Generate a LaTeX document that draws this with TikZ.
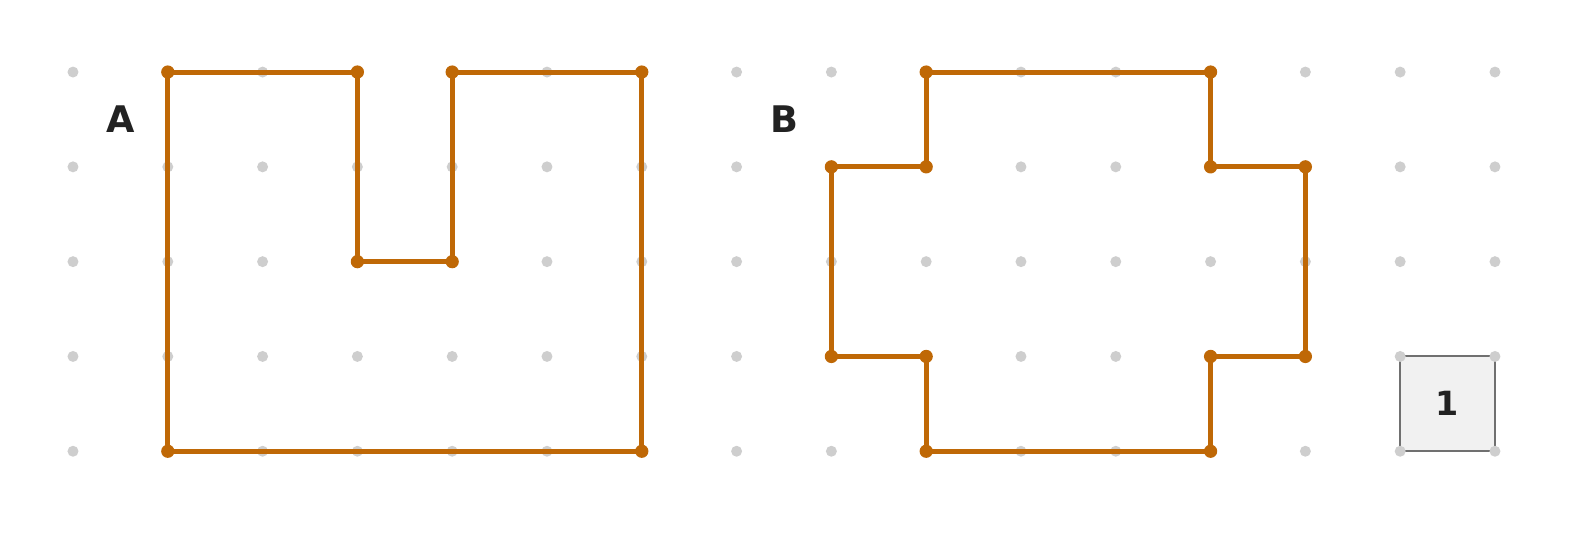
\documentclass[tikz,border=0pt]{standalone}
\usepackage{fontspec}
\setmainfont{DejaVu Sans}
\definecolor{edgeorange}{RGB}{191,104,6}
\definecolor{dotgray}{RGB}{206,206,206}
\definecolor{unitfill}{RGB}{241,241,241}
\definecolor{unitline}{RGB}{112,112,112}
\definecolor{labeltext}{RGB}{34,34,34}
\tikzset{
  griddot/.style={fill=dotgray,draw=none},
  cornerdot/.style={fill=edgeorange,draw=none},
  outline/.style={draw=edgeorange,line width=1.5pt,line join=round},
  shapelabel/.style={font=\bfseries\fontsize{11}{13}\selectfont,text=labeltext},
}
\begin{document}
\begin{tikzpicture}
    \useasboundingbox (-0.77,-0.854) rectangle (16.013,4.76);
      \def \ShapeA {
        1/1/4,
        2/3/4,
        3/3/2,
        4/4/2,
        5/4/4,
        6/6/4,
        7/6/0,
        8/1/0}
      \def \ShapeB {
        1/9/4,
        2/12/4,
        3/12/3,
        4/13/3,
        5/13/1,
        6/12/1,
        7/12/0,
        8/9/0,
        9/9/1,
        10/8/1,
        11/8/3,
        12/9/3}

      % unit square
      \coordinate (u1) at (14,0);
      \coordinate (u2) at (15,1);
      \draw[fill=unitfill,draw=unitline,line width=0.6pt] (u1) rectangle (u2);
      \node[font=\bfseries\fontsize{10}{12}\selectfont,text=labeltext] (unit) at (14.5,0.5) {1};

      % dot grid
      \foreach \x in {0,...,15} {
        \foreach \y in {0,...,4} {
          \fill[griddot] (\x,\y) circle (0.058);
        }
      }

      \foreach \id / \x / \y in \ShapeA {
        \coordinate (a\id) at (\x, \y);
      }
      \foreach \id / \x / \y in \ShapeB {
        \coordinate (b\id) at (\x, \y);
      }
      \draw[outline] (a1) -- (a2) -- (a3) -- (a4) -- (a5) -- (a6) -- (a7) -- (a8) -- cycle;
      \draw[outline] (b1) -- (b2) -- (b3) -- (b4) -- (b5) -- (b6) -- (b7) -- (b8)
        -- (b9) -- (b10) -- (b11) -- (b12) -- cycle;
      \foreach \id in {1,...,8} {
        \fill[cornerdot] (a\id) circle (0.07);
      }
      \foreach \id in {1,...,12} {
        \fill[cornerdot] (b\id) circle (0.07);
      }

      \node[shapelabel] (labelA) at (0.5,3.5) {A};
      \node[shapelabel] (labelB) at (7.5,3.5) {B};
    \end{tikzpicture}
\end{document}
